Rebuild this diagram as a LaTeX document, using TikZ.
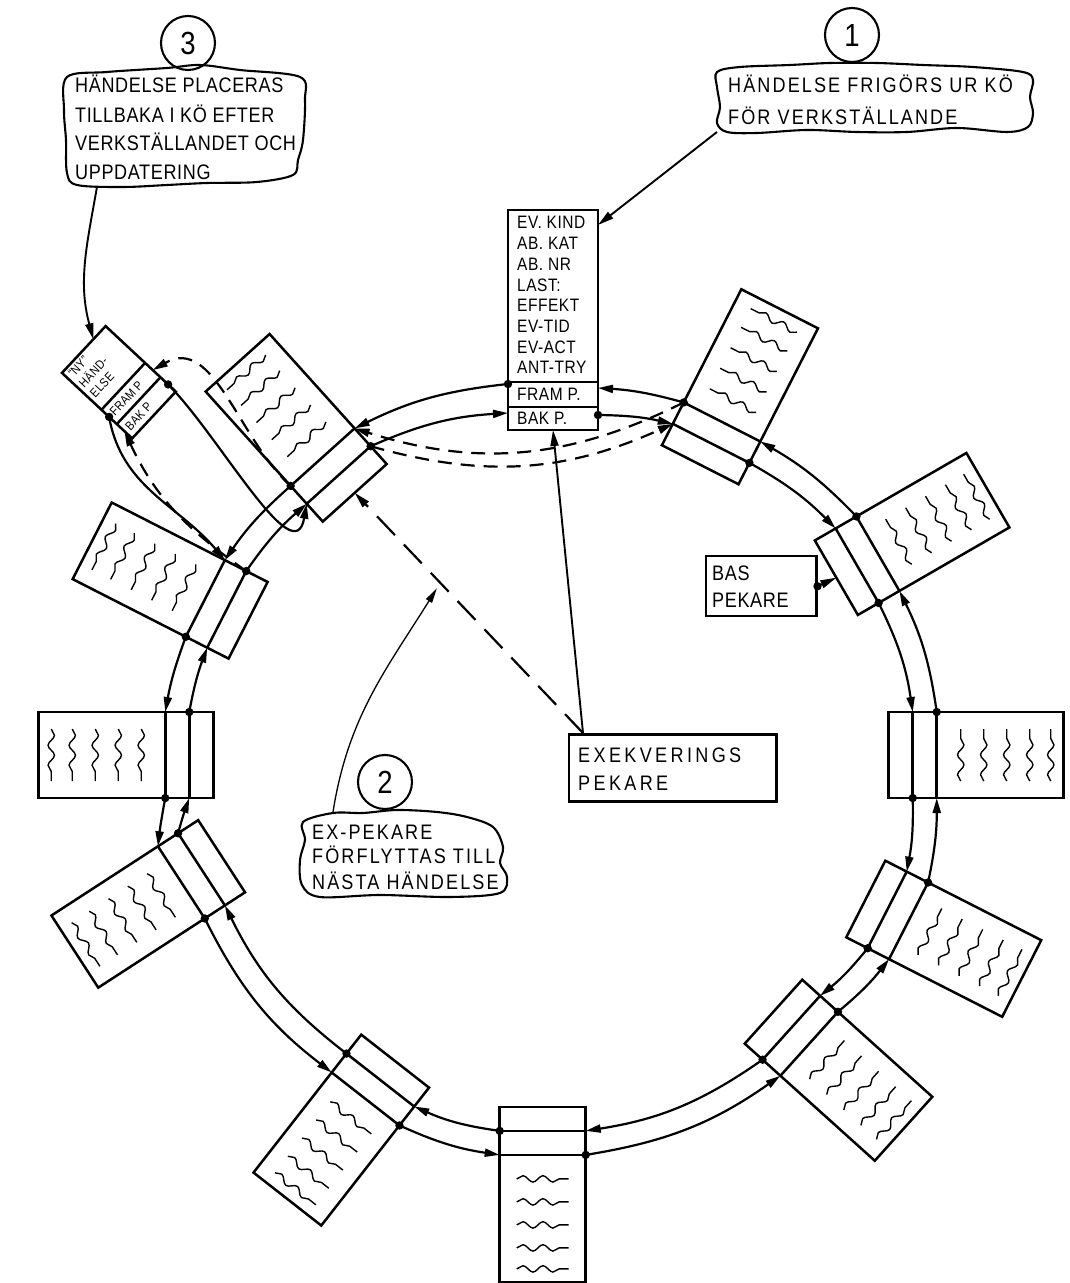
\documentclass[tikz,border=0pt]{standalone}
\usepackage{fontspec}
\setmainfont{Liberation Sans}
\newfontfamily\hw[FakeStretch=0.86,LetterSpace=3]{Liberation Sans}
\newfontfamily\hwb[FakeStretch=0.86,LetterSpace=10]{Liberation Sans}
\newfontfamily\hwwide[FakeStretch=0.86,LetterSpace=16]{Liberation Sans}
\usetikzlibrary{arrows.meta,decorations.pathmorphing,calc}
\tikzset{
  boxline/.style={line width=2.5pt},
  ringline/.style={line width=2.2pt,-{Triangle[length=15pt,width=8pt]}},
  dashring/.style={line width=2.2pt,dash pattern=on 14pt off 9pt,-{Triangle[length=15pt,width=8pt]}},
  dashlong/.style={line width=2.2pt,dash pattern=on 26pt off 13pt,-{Triangle[length=16pt,width=8pt]}},
  lead/.style={line width=1.9pt,-{Triangle[length=16pt,width=8pt]}},
  thinlead/.style={line width=1.3pt,-{Triangle[length=15pt,width=7pt]}},
  wave/.style={line width=1.4pt,decorate,decoration={snake,segment length=20pt,amplitude=3.2pt}},
  blob/.style={line width=2.1pt},
  hwtext/.style={font=\hw\fontsize{21}{24}\selectfont,inner sep=0pt,anchor=base west},
  hwbtext/.style={font=\hwb\fontsize{21}{24}\selectfont,inner sep=0pt,anchor=base west},
  widetext/.style={font=\hwwide\fontsize{21}{24}\selectfont,inner sep=0pt,anchor=base west},
  rectext/.style={font=\hw\fontsize{18}{20}\selectfont,inner sep=0pt,anchor=base west},
  ntext/.style={font=\hw\fontsize{12.5}{15}\selectfont,inner sep=0pt,transform shape},
  numcirc/.style={circle,draw,line width=2.1pt,minimum size=54pt,inner sep=0pt,font=\hw\fontsize{32}{32}\selectfont},
}
\newcommand{\ringrec}[4]{%
  \begin{scope}[shift={(#2:#3)},rotate=#4]
    \draw[boxline] (0,-43) rectangle (175,43);
    \draw[boxline] (24,-43) -- (24,43) (48,-43) -- (48,43);
    \foreach \wx in {72,95,118,141,162}{\draw[wave] (\wx,-26) -- (\wx,26);}
    \coordinate (#1-cwin) at (24,-43);
    \coordinate (#1-cwout) at (48,-43);
    \coordinate (#1-ccwin) at (24,43);
    \coordinate (#1-ccwout) at (48,43);
    \coordinate (#1-in) at (0,0);
  \end{scope}}
\newcommand{\ringpair}[3]{%
  \draw[ringline] (#1-cwin) to[bend left=#3] (#2-ccwin);
  \draw[ringline] (#2-ccwout) to[bend right=#3] (#1-cwout);
  \fill (#1-cwin) circle (4.2pt);
  \fill (#2-ccwout) circle (4.2pt);}
\begin{document}
\begin{tikzpicture}[x=1pt,y=1pt]
\useasboundingbox (-551,-515) rectangle (518,768);
\fill[white] (-551,-515) rectangle (518,768);

% ---- ring records ----
\ringrec{B}{63.8}{338}{63}
\ringrec{C}{33.7}{343}{30}
\ringrec{D}{2.2}{338}{0}
\ringrec{E}{-22.6}{341}{-27}
\ringrec{F}{-47.6}{330}{-42}
\ringrec{G}{-91.4}{339}{-90}
\ringrec{H}{-118}{332}{-128}
\ringrec{I}{195}{341}{213}
\ringrec{J}{177.8}{338}{180}
\ringrec{K}{154}{337}{153}
\ringrec{L}{125.5}{338}{132}

% ---- record being executed (top) ----
\begin{scope}[shift={(2,338)}]
  \draw[boxline] (-45,0) rectangle (45,220);
  \draw[boxline] (-45,23) -- (45,23) (-45,48) -- (45,48);
  \node[rectext] (A-t1) at (-36,201) {EV. KIND};
  \node[rectext] (A-t2) at (-36,180.3) {AB. KAT};
  \node[rectext] (A-t3) at (-36,159.6) {AB. NR};
  \node[rectext] (A-t4) at (-36,138.9) {LAST:};
  \node[rectext] (A-t5) at (-36,118.2) {EFFEKT};
  \node[rectext] (A-t6) at (-36,97.5) {EV-TID};
  \node[rectext] (A-t7) at (-36,76.8) {EV-ACT};
  \node[rectext] (A-t8) at (-36,56.1) {ANT-TRY};
  \node[rectext] (A-fram) at (-36,29.5) {FRAM P.};
  \node[rectext] (A-bak) at (-36,5.5) {BAK P.};
  \coordinate (A-cwin) at (45,15);
  \coordinate (A-cwout) at (45,42);
  \coordinate (A-ccwin) at (-45,17);
  \coordinate (A-ccwout) at (-45,46);
  \coordinate (A-in) at (0,0);
  \coordinate (A-tr) at (45,205);
\end{scope}

% ---- new record ----
\begin{scope}[shift={(-397,353)},rotate=47]
  \draw[boxline] (-32,0) rectangle (32,96);
  \draw[boxline] (-32,21) -- (32,21) (-32,42) -- (32,42);
  \node[ntext,align=left,anchor=north west] (N-body) at (-28,93) {“NY”\\HÄND-\\ELSE};
  \node[ntext,anchor=west] (N-fram) at (-28,31.5) {FRAM P};
  \node[ntext,anchor=west] (N-bak) at (-28,10.5) {BAK P};
  \coordinate (N-framLL) at (-32,31.5);
  \coordinate (N-framUR) at (32,31.5);
  \coordinate (N-bakLL) at (-32,10.5);
  \coordinate (N-bakUR) at (32,10.5);
  \coordinate (N-top) at (14,96);
\end{scope}

% ---- ring connections ----
\ringpair{A}{B}{6}
\ringpair{B}{C}{8}
\ringpair{C}{D}{9}
\ringpair{D}{E}{6}
\ringpair{E}{F}{6}
\ringpair{F}{G}{13}
\ringpair{G}{H}{8}
\ringpair{H}{I}{13}
\ringpair{I}{J}{2}
\ringpair{J}{K}{5}
\ringpair{K}{L}{7}
\ringpair{L}{A}{10}

% ---- bypass of the released record ----
\draw[dashring] (L-cwin) to[bend right=20] (B-ccwin);
\draw[dashring] (B-ccwout) to[bend left=22] (L-cwout);

% ---- insertion of the new record ----
\draw[ringline] (N-framLL) to[out=-80,in=130] (K-cwout);
\fill (N-framLL) circle (4.2pt);
\draw[dashring] (K-cwin) to[out=145,in=-65] (N-bakLL);
\draw[ringline] (N-bakUR) to[out=-45,in=-100] (L-ccwin);
\fill (N-bakUR) circle (4.2pt);
\draw[dashring] (L-ccwout) to[out=138,in=30] (N-framUR);

% ---- execution pointer ----
\node[draw,boxline,minimum width=207pt,minimum height=67pt,anchor=north west,inner sep=0pt] (exek) at (17,35) {};
\node[widetext] (exek-t1) at (27,5.5) {EXEKVERINGS};
\node[widetext] (exek-t2) at (27,-22.5) {PEKARE};
\coordinate (exek-src) at (32,35);
\draw[lead] (exek-src) -- (A-in);
\draw[dashlong] (exek-src) -- (L-in);

% ---- base pointer ----
\node[draw,boxline,minimum width=110pt,minimum height=60pt,anchor=north west,inner sep=0pt] (bas) at (154,213) {};
\node[hwtext] (bas-t1) at (161,187.5) {BAS};
\node[hwtext] (bas-t2) at (161,160.5) {PEKARE};
\draw[lead] (bas.east) -- (C-in);
\fill (bas.east) circle (4.2pt);

% ---- callout 1 ----
\draw[blob] plot[smooth cycle,tension=0.55] coordinates {(166,696) (189,701) (239,703) (279,705) (326,705) (372,703) (422,701) (472,696) (482,688) (479,671) (482,655) (477,641) (456,636) (406,640) (356,636) (306,636) (256,638) (206,635) (176,636) (166,645) (169,661) (166,681)};
\node[numcirc] (n1) at (301,733) {1};
\node[hwbtext] (c1-t1) at (177,675.5) {HÄNDELSE FRIGÖRS UR KÖ};
\node[hwbtext] (c1-t2) at (177,643.5) {FÖR VERKSTÄLLANDE};
\coordinate (c1tail) at (166,636);
\draw[lead] (c1tail) -- (A-tr);

% ---- callout 3 ----
\draw[blob] plot[smooth cycle,tension=0.55] coordinates {(-484,691) (-444,696) (-384,700) (-351,703) (-311,698) (-251,691) (-246,668) (-248,628) (-253,608) (-258,593) (-294,586) (-344,585) (-384,583) (-428,581) (-474,583) (-484,595) (-485,628) (-487,658)};
\node[numcirc] (n3) at (-363,725) {3};
\node[hwtext] (c3-t1) at (-476,675.5) {HÄNDELSE PLACERAS};
\node[hwtext] (c3-t2) at (-476,645.5) {TILLBAKA I KÖ EFTER};
\node[hwtext] (c3-t3) at (-476,617.5) {VERKSTÄLLANDET OCH};
\node[hwtext] (c3-t4) at (-476,588.5) {UPPDATERING};
\coordinate (c3tail) at (-454,581);
\draw[lead] (c3tail) to[out=-100,in=105] (N-top);

% ---- callout 2 ----
\draw[blob] plot[smooth cycle,tension=0.55] coordinates {(-248,-54) (-218,-45) (-188,-45) (-154,-42) (-114,-44) (-84,-49) (-58,-59) (-48,-79) (-51,-95) (-44,-109) (-51,-125) (-101,-129) (-171,-127) (-231,-129) (-249,-117) (-251,-92) (-246,-72)};
\node[numcirc] (n2) at (-166,-14) {2};
\node[hwbtext] (c2-t1) at (-239,-71.5) {EX-PEKARE};
\node[hwbtext] (c2-t2) at (-239,-95.5) {FÖRFLYTTAS TILL};
\node[hwbtext] (c2-t3) at (-239,-121.5) {NÄSTA HÄNDELSE};
\coordinate (c2tail) at (-218,-44);
\coordinate (tip2) at ($(exek-src)!0.64!(L-in)+(0,-9)$);
\draw[thinlead] (c2tail) to[out=81,in=-122] (tip2);
\end{tikzpicture}
\end{document}
